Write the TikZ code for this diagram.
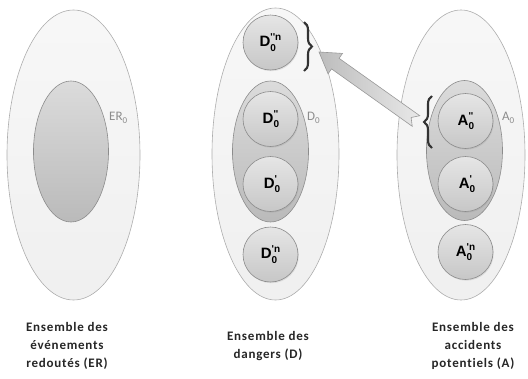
\documentclass[tikz,border=0pt]{standalone}
\usepackage{fontspec}
\setmainfont{Carlito}
\newfontfamily\lblfont{Liberation Sans}
\newfontfamily\capfont[LetterSpace=6,Ligatures=NoCommon]{Carlito}
\usetikzlibrary{calc,shadows,shapes.geometric,decorations.pathreplacing}
\newcommand\setlbl[2]{{\lblfont\bfseries\fontsize{15}{15}\selectfont #1\rlap{\raisebox{-0.28em}{\fontsize{10}{10}\selectfont 0}}\raisebox{0.42em}{\fontsize{10}{10}\selectfont #2}}}
\newcommand\setsub[1]{#1\raisebox{-0.25em}{\fontsize{9}{9}\selectfont 0}}
\newcommand\qs{\textquotesingle}
\tikzset{
  outerell/.style={ellipse, draw=black!32, line width=0.6pt, top color=black!3, bottom color=black!6, inner sep=0pt},
  innerell/.style={ellipse, draw=black!45, line width=0.6pt, top color=black!14, bottom color=black!27, inner sep=0pt, minimum width=75pt, minimum height=141pt},
  circ/.style={circle, draw=black!45, line width=0.6pt, top color=black!10, bottom color=black!22, minimum size=55pt, inner sep=0pt, drop shadow={opacity=0.18, shadow xshift=0.8pt, shadow yshift=-1.2pt}},
  setname/.style={text=black!45, font=\fontsize{13}{13}\selectfont, inner sep=0pt, anchor=west},
  caption/.style={align=center, font=\capfont\bfseries\fontsize{13}{18}\selectfont, text=black!85},
  bracestyle/.style={decorate, decoration={brace, amplitude=8pt}, line width=2.1pt, draw=black!80},
  bigarrow/.style={draw=black!40, line width=0.6pt, left color=black!26, right color=black!9}
}
\begin{document}
\begin{tikzpicture}[x=1pt, y=-1pt]
\useasboundingbox (0,0) rectangle (528,378);
% left set
\node[outerell, minimum width=133pt, minimum height=290pt] (ER) at (73.5,155) {};
\node[innerell] (ERi) at (71,151.5) {};
\node[setname] (ERl) at (109,118) {\setsub{ER}};
% middle set
\node[outerell, minimum width=127pt, minimum height=292pt] (D) at (275.5,154) {};
\node[innerell, minimum width=76pt] (Di) at (270.5,151.5) {};
\node[setname] (Dl) at (307,118) {\setsub{D}};
\node[circ] (d1) at (270.5,42.5) {\setlbl{D}{\qs\qs n}};
\node[circ] (d2) at (270.5,119) {\setlbl{D}{\qs\qs}};
\node[circ] (d3) at (270.5,184) {\setlbl{D}{\qs}};
\node[circ] (d4) at (270.5,254.5) {\setlbl{D}{\qs n}};
% right set
\node[outerell, minimum width=128pt, minimum height=290pt] (A) at (461,155) {};
\node[innerell, minimum width=76pt, minimum height=140pt] (Ai) at (464.5,150.5) {};
\node[setname] (Al) at (502,118) {\setsub{A}};
\node[circ] (a1) at (465.5,121) {\setlbl{A}{\qs\qs}};
\node[circ] (a2) at (465.5,184) {\setlbl{A}{\qs}};
\node[circ] (a3) at (465.5,252) {\setlbl{A}{\qs n}};
% braces
\coordinate (bd1) at (304,22);
\coordinate (bd2) at (304,71);
\draw[bracestyle] (bd1) -- (bd2);
\coordinate (ba1) at (432,148);
\coordinate (ba2) at (432,96);
\draw[bracestyle] (ba1) -- (ba2);
% block arrow
\coordinate (H) at (319,52);
\coordinate (T) at (416,121);
\coordinate (B) at ($(H)!20pt!(T)$);
\coordinate (N) at ($(T)!6pt!(H)$);
\path[bigarrow] (H) -- ($(B)!12.5pt!90:(T)$) -- ($(B)!6.5pt!90:(T)$) -- ($(T)!6.5pt!-90:(H)$) -- (N)
  -- ($(T)!6.5pt!90:(H)$) -- ($(B)!6.5pt!-90:(T)$) -- ($(B)!12.5pt!-90:(T)$) -- cycle;
% captions
\node[caption] (c1) at (67,346) {Ensemble des\\événements\\redoutés (ER)};
\node[caption] (c2) at (268,346) {Ensemble des\\dangers (D)};
\node[caption] (c3) at (473,346) {Ensemble des\\accidents\\potentiels (A)};
\end{tikzpicture}
\end{document}
